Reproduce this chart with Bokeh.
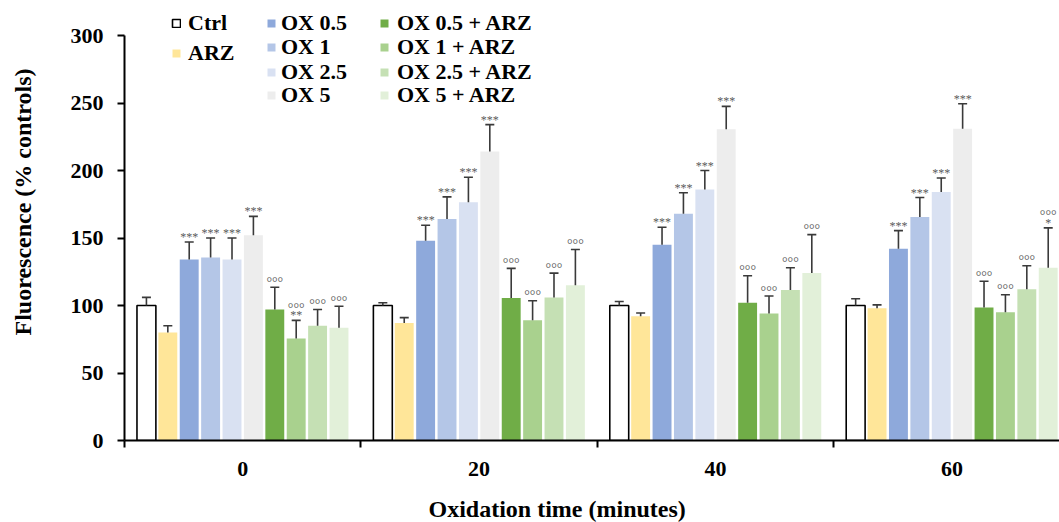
import math
from bokeh.plotting import figure
from bokeh.models import (ColumnDataSource, Range1d, FixedTicker, Whisker, TeeHead,
                          Legend, LegendItem, Title)
from bokeh.transform import dodge
from bokeh.core.properties import value
from bokeh.embed import file_html
from bokeh.resources import INLINE

# ---------------- data ----------------
times = ["0", "20", "40", "60"]
x_title = "Oxidation time (minutes)"
y_title = "Fluorescence (% controls)"
y_ticks = [0, 50, 100, 150, 200, 250, 300]

groups = ["Ctrl", "ARZ", "OX 0.5", "OX 1", "OX 2.5", "OX 5",
          "OX 0.5 + ARZ", "OX 1 + ARZ", "OX 2.5 + ARZ", "OX 5 + ARZ"]
colors = ["#FFFFFF", "#FFE699", "#8EA9DB", "#B4C6E7", "#D9E1F2", "#EDEDED",
          "#70AD47", "#A9D18E", "#C5E0B4", "#E2F0D9"]

ctrl_mean = [100, 100, 100, 100]
ctrl_err = [6, 2, 3, 5]
arz_mean = [80, 87, 92, 98]
arz_err = [5, 4, 2.5, 2.5]
ox05_mean = [134, 148, 145, 142]
ox05_err = [13, 11.5, 13, 13.5]
ox1_mean = [135.5, 164, 168, 165.5]
ox1_err = [14.5, 16.5, 15.5, 14.5]
ox25_mean = [134, 176.5, 186, 184]
ox25_err = [16, 18.5, 14, 10.5]
ox5_mean = [152, 214, 230.5, 231]
ox5_err = [14, 20, 17, 18.5]
ox05arz_mean = [97, 105.5, 102, 98.5]
ox05arz_err = [16.5, 22, 20, 19.5]
ox1arz_mean = [75.5, 89, 94, 95]
ox1arz_err = [13.5, 14.5, 13, 13]
ox25arz_mean = [85, 106, 111.5, 112]
ox25arz_err = [12, 18, 16.5, 17.5]
ox5arz_mean = [83.5, 115, 124, 128]
ox5arz_err = [16, 26.5, 28.5, 29.5]

# significance marks (vs control: asterisks; vs OX alone: circles)
ctrl_stars = ["", "", "", ""]
arz_stars = ["", "", "", ""]
ox05_stars = ["***", "***", "***", "***"]
ox1_stars = ["***", "***", "***", "***"]
ox25_stars = ["***", "***", "***", "***"]
ox5_stars = ["***", "***", "***", "***"]
ox05arz_stars = ["", "", "", ""]
ox1arz_stars = ["**", "", "", ""]
ox25arz_stars = ["", "", "", ""]
ox5arz_stars = ["", "", "", "*"]

ctrl_circ = ["", "", "", ""]
arz_circ = ["", "", "", ""]
ox05_circ = ["", "", "", ""]
ox1_circ = ["", "", "", ""]
ox25_circ = ["", "", "", ""]
ox5_circ = ["", "", "", ""]
ox05arz_circ = ["°°°", "°°°", "°°°", "°°°"]
ox1arz_circ = ["°°°", "°°°", "°°°", "°°°"]
ox25arz_circ = ["°°°", "°°°", "°°°", "°°°"]
ox5arz_circ = ["°°°", "°°°", "°°°", "°°°"]

means = [ctrl_mean, arz_mean, ox05_mean, ox1_mean, ox25_mean, ox5_mean,
         ox05arz_mean, ox1arz_mean, ox25arz_mean, ox5arz_mean]
errs = [ctrl_err, arz_err, ox05_err, ox1_err, ox25_err, ox5_err,
        ox05arz_err, ox1arz_err, ox25arz_err, ox5arz_err]
stars = [ctrl_stars, arz_stars, ox05_stars, ox1_stars, ox25_stars, ox5_stars,
         ox05arz_stars, ox1arz_stars, ox25arz_stars, ox5arz_stars]
circs = [ctrl_circ, arz_circ, ox05_circ, ox1_circ, ox25_circ, ox5_circ,
         ox05arz_circ, ox1arz_circ, ox25arz_circ, ox5arz_circ]

# ---------------- figure ----------------
FONT = "Liberation Serif"
cat_x = [i + 0.5 for i in range(len(times))]

p = figure(width=1059, height=522, output_backend="svg", toolbar_location=None,
           x_range=Range1d(0, 3.955), y_range=Range1d(0, 325.93),
           min_border_left=124, min_border_right=0, min_border_top=0,
           min_border_bottom=82)
p.outline_line_color = None
p.xgrid.visible = False
p.ygrid.visible = False

pitch = 0.0905
bar_w = 0.080
renderers = []
for k, g in enumerate(groups):
    off = (k - 4.5) * pitch
    upper = [m + e for m, e in zip(means[k], errs[k])]
    circ_off = [(-12 if s else -5) for s in stars[k]]
    src = ColumnDataSource(dict(x=cat_x, top=means[k], upper=upper,
                                stars=stars[k], circ=circs[k], circ_off=circ_off))
    r = p.vbar(x=dodge("x", off), top="top", bottom=0, width=bar_w, source=src,
               fill_color=colors[k],
               line_color="black" if k == 0 else None, line_width=1.6)
    renderers.append(r)
    w = Whisker(source=src, base=dodge("x", off), lower="top", upper="upper",
                dimension="height", line_color="#3a3a3a", line_width=1.6,
                lower_head=None,
                upper_head=TeeHead(size=9, line_color="#3a3a3a", line_width=1.6),
                level="glyph")
    p.add_layout(w)
    p.text(x=dodge("x", off), y="upper", text="stars", source=src,
           text_font=value(FONT), text_font_size="12px", text_align="center",
           text_baseline="alphabetic", text_color="#5a5a5a", y_offset=-5)
    p.text(x=dodge("x", off), y="upper", text="circ", source=src,
           text_font=value(FONT), text_font_size="14px", text_align="center",
           text_baseline="alphabetic", text_color="#5a5a5a", y_offset="circ_off")

# ---------------- axes ----------------
xa = p.xaxis[0]
xa.ticker = FixedTicker(ticks=cat_x, minor_ticks=[0, 1, 2, 3])
xa.major_label_overrides = {cx: t for cx, t in zip(cat_x, times)}
xa.major_tick_line_color = None
xa.major_tick_out = 0
xa.major_tick_in = 0
xa.minor_tick_line_color = "black"
xa.minor_tick_line_width = 2
xa.minor_tick_out = 7
xa.minor_tick_in = 0
xa.axis_line_width = 2
xa.axis_line_color = "black"
xa.major_label_standoff = 14
xa.major_label_text_font = FONT
xa.major_label_text_font_style = "bold"
xa.major_label_text_font_size = "22px"
xa.major_label_text_color = "black"
# blank spacer label between tick labels and the axis title
xa.axis_label = " "
xa.axis_label_text_font_size = "1px"
xa.axis_label_standoff = 11

ya = p.yaxis[0]
ya.ticker = FixedTicker(ticks=y_ticks)
ya.bounds = (0, 300)
ya.minor_tick_line_color = None
ya.major_tick_line_width = 2
ya.major_tick_out = 7
ya.major_tick_in = 0
ya.axis_line_width = 2
ya.axis_line_color = "black"
ya.major_label_standoff = 14
ya.major_label_text_font = FONT
ya.major_label_text_font_style = "bold"
ya.major_label_text_font_size = "22px"
ya.major_label_text_color = "black"
ya.axis_label = " "
ya.axis_label_text_font_size = "1px"
ya.axis_label_standoff = 22

# axis titles (offset from the frame like the original)
p.add_layout(Title(text=y_title, align="left", offset=105, vertical_align="middle",
                   standoff=10, text_font=FONT, text_font_style="bold",
                   text_font_size="24px", text_color="black"), "left")
p.add_layout(Title(text=x_title, align="left", offset=304, vertical_align="bottom",
                   standoff=0, text_font=FONT, text_font_style="bold",
                   text_font_size="24px", text_color="black"), "below")

# ---------------- legend (one entry per box, three columns) ----------------
legend_slots = [  # (group index, x from frame left, y from frame bottom, standoff)
    (0, 47, 404.5, 7), (1, 47, 374.5, 7),
    (2, 142, 404, 5), (3, 142, 380, 5), (4, 142, 355, 5), (5, 142, 332, 5),
    (6, 255, 404, 8), (7, 255, 380, 8), (8, 255, 355, 8), (9, 255, 332, 8),
]
for gi, lx, ly, so in legend_slots:
    p.add_layout(Legend(items=[LegendItem(label=value(groups[gi]),
                                          renderers=[renderers[gi]])],
                        location=(lx, ly), orientation="vertical",
                        label_text_font=FONT, label_text_font_style="bold",
                        label_text_font_size="22px", label_text_color="black",
                        glyph_width=10, glyph_height=10, label_height=20, spacing=0,
                        padding=0, margin=0, border_line_color=None,
                        background_fill_alpha=0, label_standoff=so))

open("out.html", "w").write(file_html(p, INLINE))
